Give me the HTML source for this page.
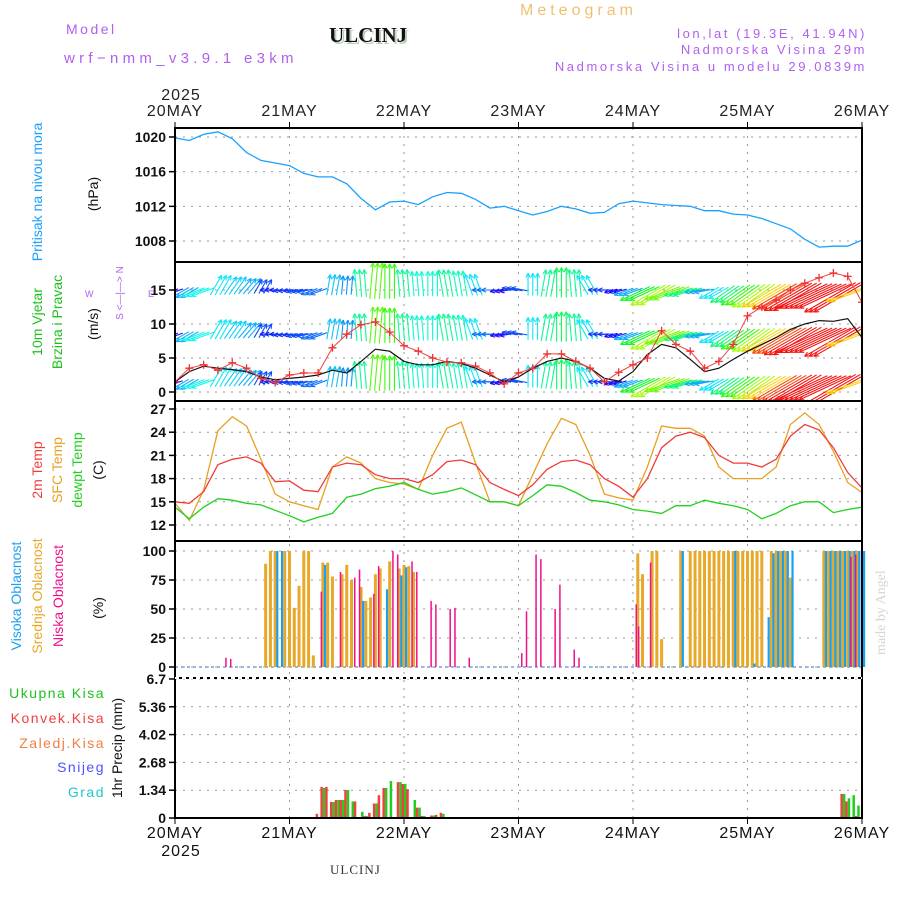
<!DOCTYPE html>
<html><head><meta charset="utf-8"><style>
body{margin:0;background:#fff}
svg{display:block;font-family:"Liberation Sans","DejaVu Sans",sans-serif}
</style></head><body>
<svg id="c" width="900" height="900" viewBox="0 0 900 900">
<defs>
<clipPath id="cw"><rect x="175" y="263" width="687" height="137"/></clipPath>
<clipPath id="cp"><rect x="175" y="128" width="687" height="134"/></clipPath>
</defs>
<text x="66" y="34" font-size="14" fill="#b060f0" letter-spacing="2.5">Model</text>
<text x="64" y="63" font-size="15" fill="#b060f0" letter-spacing="4.3">wrf−nmm_v3.9.1 e3km</text>
<text x="331" y="44" font-size="21" font-weight="bold" font-family="Liberation Serif,serif" fill="#b8d0b8">ULCINJ</text>
<text x="329" y="42" font-size="21" font-weight="bold" font-family="Liberation Serif,serif" fill="#111">ULCINJ</text>
<text x="520" y="15" font-size="16" fill="#f0c070" letter-spacing="4">Meteogram</text>
<text x="867" y="38" font-size="13" fill="#b060f0" text-anchor="end" letter-spacing="2.6">lon,lat (19.3E, 41.94N)</text>
<text x="867" y="54" font-size="13" fill="#b060f0" text-anchor="end" letter-spacing="2.6">Nadmorska Visina 29m</text>
<text x="867" y="71" font-size="13" fill="#b060f0" text-anchor="end" letter-spacing="2.6">Nadmorska Visina u modelu 29.0839m</text>
<text x="330" y="874" font-size="13" font-family="Liberation Serif,serif" fill="#333" letter-spacing="1">ULCINJ</text>
<text transform="translate(885,655) rotate(-90)" font-size="14" font-family="Liberation Serif,serif" fill="#d0d8d0">made by Angel</text>
<g id="g"></g>
</svg>
<script>
// ---- data (3-hourly, 20MAY 00 .. 26MAY 00) ----
const dayLabels=["20MAY","21MAY","22MAY","23MAY","24MAY","25MAY","26MAY"];
const pressure=[1019.9,1019.6,1020.3,1020.6,1019.8,1018.2,1017.3,1017.0,1016.7,1015.8,1015.4,1015.4,1014.6,1012.9,1011.6,1012.5,1012.6,1012.2,1013.1,1013.6,1013.5,1012.8,1011.8,1012.0,1011.5,1011.0,1011.4,1012.0,1011.7,1011.2,1011.3,1012.3,1012.6,1012.4,1012.2,1012.1,1012.0,1011.5,1011.5,1011.1,1011.0,1010.6,1010.0,1009.4,1008.2,1007.3,1007.4,1007.4,1008.1];
const temp2m=[15.0,14.8,16.3,19.8,20.5,20.8,20.0,17.6,17.7,16.5,16.3,19.5,20.0,19.8,18.5,18.0,18.0,17.5,18.5,20.2,20.4,19.8,17.5,16.6,15.8,17.2,19.2,20.2,20.4,19.8,18.0,17.0,15.6,18.0,22.0,23.5,24.0,23.3,21.0,20.0,20.0,19.5,20.5,23.5,25.0,24.3,22.0,18.8,16.8];
const tempSfc=[14.8,12.6,16.5,24.2,26.0,24.8,20.5,16.0,15.0,14.5,14.0,19.5,20.8,20.0,18.0,17.5,17.3,16.6,21.0,24.5,25.3,20.0,15.0,15.0,14.5,18.5,22.5,25.8,25.0,21.0,16.0,15.5,15.2,19.5,24.8,24.5,24.5,23.5,19.5,18.0,18.0,18.0,19.5,25.0,26.5,25.0,21.5,17.5,16.2];
const dewpt=[14.3,12.8,14.3,15.4,15.2,14.8,14.6,13.9,13.2,12.4,13.0,13.5,15.6,16.0,16.7,17.0,17.5,16.6,16.0,16.3,16.8,15.9,15.0,15.0,14.5,15.8,17.2,17.0,16.2,15.2,15.0,14.6,14.0,13.8,13.5,14.5,14.5,15.2,14.8,14.5,14.0,12.8,13.5,14.5,15.0,15.0,13.6,14.0,14.3];
const windGust=[1.5,3.5,4.0,3.2,4.3,3.5,2.0,1.4,2.5,2.8,2.8,6.5,8.5,9.9,10.3,8.8,6.8,6.0,5.0,4.4,4.3,3.8,2.8,1.2,2.8,3.5,5.6,5.6,4.5,3.5,1.5,2.9,4.0,5.0,9.0,7.0,6.0,3.5,4.5,7.0,11.2,12.5,13.5,15.0,16.0,16.8,17.5,17.0,13.2];
const windSpeed=[1.5,3.0,3.8,3.5,3.3,3.0,2.2,1.8,2.0,2.2,2.5,3.2,2.8,4.5,6.3,6.0,4.5,4.0,4.0,4.5,4.2,3.5,2.5,1.5,2.2,3.5,4.5,5.0,4.5,3.5,2.0,1.6,3.0,5.5,7.0,6.5,4.8,3.0,3.5,4.8,6.0,7.0,8.0,9.2,10.0,10.5,10.4,10.8,8.0];
const windDir=[200,210,200,60,55,50,60,180,185,190,200,80,85,95,85,90,95,95,90,100,100,110,180,190,170,90,80,90,95,120,180,195,200,205,210,200,195,190,210,215,215,215,210,210,210,205,205,210,200];
// cloud: [hour, percent]
const cloudHigh=[[21,100],[22,100],[31,88],[39,57],[44,67],[47,79],[48,86],[106,100],[117,100],[121,3],[124,43],[125,98],[126,100],[127,100],[128,100],[129,100],[136,100],[137,100],[138,100],[139,100],[140,100],[141,100],[142,100],[143,100],[144,100]];
const cloudMid=[[19,89],[20,100],[21,100],[23,100],[24,100],[25,51],[26,70],[27,100],[28,100],[29,10],[31,90],[32,90],[33,78],[35,80],[36,88],[37,75],[39,69],[40,57],[41,60],[42,80],[43,85],[45,91],[47,85],[48,88],[49,87],[50,82],[97,98],[98,80],[100,100],[101,100],[102,24],[106,100],[108,100],[109,100],[110,100],[111,100],[112,100],[113,100],[114,100],[115,100],[116,100],[117,100],[118,100],[119,100],[120,100],[121,100],[122,100],[123,100],[125,100],[126,100],[127,100],[128,100],[129,77],[136,100],[137,100],[138,100],[139,100],[140,100],[141,100],[142,100],[143,100]];
const cloudLow=[[10,8],[11,7],[30,65],[34,82],[37,77],[38,84],[41,63],[42,87],[45,100],[46,97],[49,91],[50,82],[53,57],[54,54],[57,50],[58,51],[61,8],[72,12],[73,48],[75,97],[76,93],[79,50],[80,71],[83,15],[84,8],[96,54],[96.5,35],[99,90],[141,95],[142,97]];
// precip: [hour, mm]
const precipTotal=[[31,1.45],[33,0.77],[34,0.87],[35,0.87],[36,1.35],[37,0.8],[39,0.3],[40,0.1],[42,0.7],[44,1.45],[45,1.78],[47,1.73],[48,1.64],[50,0.87],[51,0.5],[52,0.1],[53,0.05],[54,0.12],[56,0.2],[58,0.05],[140,1.16],[141,0.95],[142,1.1],[143,0.6]];
const precipConv=[[30,0.2],[31,1.5],[32,1.5],[33,0.77],[34,0.87],[35,0.87],[36,1.35],[38,0.8],[40,0.1],[41,0.25],[42,0.7],[43,1.1],[44,1.45],[47,1.73],[48,1.64],[49,1.39],[51,0.5],[52,0.1],[54,0.12],[55,0.15],[56,0.25],[57,0.05],[140,1.16],[141,0.8],[143,0.1]];

const NS="http://www.w3.org/2000/svg";
const G=document.getElementById('g');
const X0=175,X1=862;
const xH=h=>X0+h*(X1-X0)/144;
const yP=v=>137+(1020-v)*8.667;
const yW=v=>392-v*6.8;
const yT=v=>409+(27-v)*7.733;
const yC=v=>667-v*1.16;
const yR=v=>818-v*20.75;
function el(tag,attrs,parent){const e=document.createElementNS(NS,tag);for(const k in attrs)e.setAttribute(k,attrs[k]);(parent||G).appendChild(e);return e;}
function txt(x,y,s,attrs){const t=el('text',Object.assign({x:x,y:y},attrs||{}));t.textContent=s;return t;}

const panels=[[128,262],[262,401],[401,541],[541,678],[678,818]];
const grid=el('g',{stroke:'#999','stroke-dasharray':'2,6','stroke-width':1});


for(let d=1;d<6;d++){el('line',{x1:xH(d*24),x2:xH(d*24),y1:128,y2:818},grid);}
function hgrid(ys){ys.forEach(y=>el('line',{x1:X0,x2:X1,y1:y,y2:y},grid));}
const pTicks=[1008,1012,1016,1020],wTicks=[0,5,10,15],tTicks=[12,15,18,21,24,27],cTicks=[0,25,50,75,100],rTicks=["0","1.34","2.68","4.02","5.36","6.7"];
hgrid(pTicks.map(yP));hgrid(wTicks.map(yW));hgrid(tTicks.map(yT));hgrid(cTicks.map(yC));hgrid(rTicks.map(v=>yR(+v)));

function line(arr,fy,color,name,clip,w){
  const d=arr.map((v,i)=>(i?'L':'M')+xH(i*3).toFixed(1)+','+fy(v).toFixed(1)).join('');
  const p=el('path',{d:d,fill:'none',stroke:color,'stroke-width':w||1.3});
  if(clip)p.setAttribute('clip-path',clip);
  
  
  return p;
}
line(pressure,yP,'#1aa0ff','pressure-line','url(#cp)');
// wind arrows (drawn hourly, each 3-hourly sample held for its 3 hours)
const wg=el('g',{'clip-path':'url(#cw)'});


[1.5,8.5,15].forEach(base=>{
  windDir.forEach((dir,i)=>{
    const s=windSpeed[i];const L=5+5*s;const a=dir*Math.PI/180;
    const dx=Math.cos(a)*L,dy=-Math.sin(a)*L;
    const hue=Math.max(0,290-30*s);const col='hsl('+hue+',95%,52%)';
    for(let o=-1;o<=1;o++){
      if(i*3+o<0||i*3+o>144)continue;
      const x0=xH(i*3+o)-dx*0.25,y0=yW(base)-dy*0.25,x1=x0+dx,y1=y0+dy;
      const g2=el('g',{stroke:col,'stroke-width':1.1,fill:'none'},wg);
      el('line',{x1:x0,y1:y0,x2:x1,y2:y1},g2);
      const ha=Math.atan2(dy,dx);
      [2.6,-2.6].forEach(q=>el('line',{x1:x1,y1:y1,x2:x1-5*Math.cos(ha+q/6),y2:y1-5*Math.sin(ha+q/6)},g2));
    }
  });
});
line(windSpeed,yW,'#111','wind-speed-line','url(#cw)',1.2);
line(windGust,yW,'#f04040','wind-gust-line','url(#cw)',1);
windGust.forEach((v,i)=>{
  const x=xH(i*3),y=yW(v);
  const m=el('path',{d:`M${x-4},${y}H${x+4}M${x},${y-4}V${y+4}`,stroke:'#f03030','stroke-width':1.3,'clip-path':'url(#cw)'});
  
  
});
line(tempSfc,yT,'#e8a020','sfc-temp-line');
line(temp2m,yT,'#f03c3c','temp-2m-line');
line(dewpt,yT,'#20d020','dewpoint-line');
el('line',{x1:X0,x2:X1,y1:667,y2:667,stroke:'#7aa0d0','stroke-width':1.5,'stroke-dasharray':'3,3'});
function bars(arr,fy,color,off,w,name){
  arr.forEach(([h,v])=>{
    const y=fy(v),b=fy(0);
    const r=el('rect',{x:xH(h)+off,y:y,width:w,height:Math.max(0,b-y),fill:color});
    
    
  });
}
bars(cloudMid,yC,'#e8a828',-1.5,3,'cloud-mid-bar');
bars(cloudHigh,yC,'#1aa0f0',1,2.2,'cloud-high-bar');
bars(cloudLow,yC,'#f0108a',2.5,1.5,'cloud-low-bar');
bars(precipTotal,yR,'#20d020',0,2.5,'precip-total-bar');
bars(precipConv,yR,'#f04040',-2.5,2.5,'precip-conv-bar');
panels.forEach(([a,b],i)=>{
  const r=el('rect',{x:X0,y:a,width:X1-X0,height:b-a,fill:'none',stroke:'#000','stroke-width':2});
  
  
});
el('line',{x1:X0,x2:X1,y1:678,y2:678,stroke:'#fff','stroke-width':2,'stroke-dasharray':'4,3'});
function yl(vals,fy,name){vals.forEach(v=>{const y=fy(+v);el('line',{x1:X0-6,x2:X0,y1:y,y2:y,stroke:'#000','stroke-width':1.5});
  const t=txt(X0-9,y+5,String(v),{'font-size':14,'text-anchor':'end',fill:'#111','font-weight':'bold'});
  });}
yl(pTicks,yP,'pressure-tick');yl(wTicks,yW,'wind-tick');yl(tTicks,yT,'temp-tick');yl(cTicks,yC,'cloud-tick');
yl(rTicks,yR,'precip-tick');
dayLabels.forEach((d,i)=>{const x=xH(i*24);
  const a=txt(x,116,d,{'font-size':16,'text-anchor':'middle',fill:'#222','letter-spacing':1});
  
  const b=txt(x,838,d,{'font-size':16,'text-anchor':'middle',fill:'#111','letter-spacing':1});
  
  el('line',{x1:x,x2:x,y1:122,y2:128,stroke:'#000'});el('line',{x1:x,x2:x,y1:818,y2:824,stroke:'#000'});
});
const yr1=txt(181,100,'2025',{'font-size':16,'text-anchor':'middle',fill:'#222','letter-spacing':1});

const yr2=txt(181,856,'2025',{'font-size':16,'text-anchor':'middle',fill:'#111','letter-spacing':1});

function rt(x,y,s,col,name,fs){const t=txt(0,0,s,{transform:`translate(${x},${y}) rotate(-90)`,'font-size':fs||14,fill:col,'text-anchor':'middle'});
  }
rt(42,192,'Pritisak na nivou mora','#1aa0ff','pressure-title');
rt(98,194,'(hPa)','#111','pressure-unit');
rt(42,322,'10m Vjetar','#20c020','wind-title-1');
rt(62,322,'Brzina i Pravac','#20c020','wind-title-2');
rt(98,324,'(m/s)','#111','wind-unit');
rt(123,293,'S <—|—> N','#b060f0','wind-compass',10);
const cw=txt(85,297,'W',{'font-size':9,fill:'#b060f0'});
const ce=txt(148,297,'E',{'font-size':9,fill:'#b060f0'});
rt(42,470,'2m Temp','#f03c3c','temp-2m-title');
rt(62,470,'SFC Temp','#e8a020','sfc-temp-title');
rt(82,470,'dewpt Temp','#20d020','dewpt-title');
rt(103,470,'(C)','#111','temp-unit');
rt(21,596,'Visoka Oblacnost','#1aa0f0','cloud-high-title');
rt(42,596,'Srednja Oblacnost','#e8a828','cloud-mid-title');
rt(63,596,'Niska Oblacnost','#f0108a','cloud-low-title');
rt(103,608,'(%)','#111','cloud-unit');
rt(122,748,'1hr Precip (mm)','#111','precip-unit');
[['Ukupna  Kisa','#20c020',698],['Konvek.Kisa','#f04040',723],['Zaledj.Kisa','#f08040',748],['Snijeg','#5050ff',772],['Grad','#20c8c8',797]].forEach(([s,c,y])=>{
  const t=txt(105,y,s,{'font-size':14,fill:c,'text-anchor':'end','letter-spacing':1.5});
  });
</script>
</body></html>
